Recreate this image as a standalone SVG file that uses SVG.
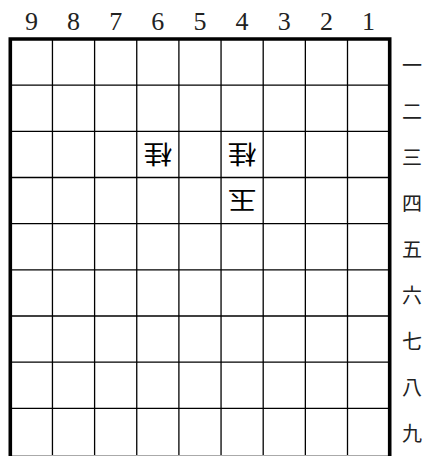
<svg xmlns="http://www.w3.org/2000/svg" width="429" height="456" viewBox="0 0 429 456">
<style>
.grid line{stroke:#000;stroke-width:1.3}
.num{font-family:"Liberation Serif","DejaVu Serif",serif;font-size:26px;text-anchor:middle;fill:#222}
.kan{font-family:"Noto Sans CJK JP",sans-serif;font-size:20px;text-anchor:middle;dominant-baseline:central;fill:#222}
.pc{font-family:"Noto Sans CJK JP",sans-serif;font-size:25px;text-anchor:middle;dominant-baseline:central;fill:#000}
</style>
<rect width="429" height="456" fill="#fff"/>
<g id="board">
<g class="grid">
<line x1="52.45" y1="39" x2="52.45" y2="456"/>
<line x1="94.6" y1="39" x2="94.6" y2="456"/>
<line x1="136.75" y1="39" x2="136.75" y2="456"/>
<line x1="178.9" y1="39" x2="178.9" y2="456"/>
<line x1="221.05" y1="39" x2="221.05" y2="456"/>
<line x1="263.2" y1="39" x2="263.2" y2="456"/>
<line x1="305.35" y1="39" x2="305.35" y2="456"/>
<line x1="347.5" y1="39" x2="347.5" y2="456"/>
<line x1="10" y1="85.2" x2="390" y2="85.2"/>
<line x1="10" y1="131.3" x2="390" y2="131.3"/>
<line x1="10" y1="177.5" x2="390" y2="177.5"/>
<line x1="10" y1="223.6" x2="390" y2="223.6"/>
<line x1="10" y1="269.8" x2="390" y2="269.8"/>
<line x1="10" y1="316" x2="390" y2="316"/>
<line x1="10" y1="362.1" x2="390" y2="362.1"/>
<line x1="10" y1="408.3" x2="390" y2="408.3"/>
</g>
<line x1="11" y1="455.5" x2="389" y2="455.5" stroke="#aaa" stroke-width="1"/>
<path d="M10.3 456V39H389.7V456" fill="none" stroke="#000" stroke-width="3.6"/>
</g>
<g id="files">
<text class="num" x="31.4" y="30">9</text>
<text class="num" x="73.5" y="30">8</text>
<text class="num" x="115.7" y="30">7</text>
<text class="num" x="157.8" y="30">6</text>
<text class="num" x="200" y="30">5</text>
<text class="num" x="242.1" y="30">4</text>
<text class="num" x="284.3" y="30">3</text>
<text class="num" x="326.4" y="30">2</text>
<text class="num" x="368.6" y="30">1</text>
</g>
<g id="ranks">
<text class="kan" x="412" y="64">一</text>
<text class="kan" x="412" y="110">二</text>
<text class="kan" x="412" y="156">三</text>
<text class="kan" x="412" y="202">四</text>
<text class="kan" x="412" y="248">五</text>
<text class="kan" x="412" y="294">六</text>
<text class="kan" x="412" y="340">七</text>
<text class="kan" x="412" y="386">八</text>
<text class="kan" x="412" y="432">九</text>
</g>
<g id="piece-63"><text class="pc" transform="translate(157.8,156) rotate(180) scale(1.15,1)">桂</text></g>
<g id="piece-43"><text class="pc" transform="translate(242.1,156) rotate(180) scale(1.15,1)">桂</text></g>
<g id="piece-44"><text class="pc" transform="translate(242.1,202) rotate(180) scale(1.15,1)">玉</text></g>
</svg>
